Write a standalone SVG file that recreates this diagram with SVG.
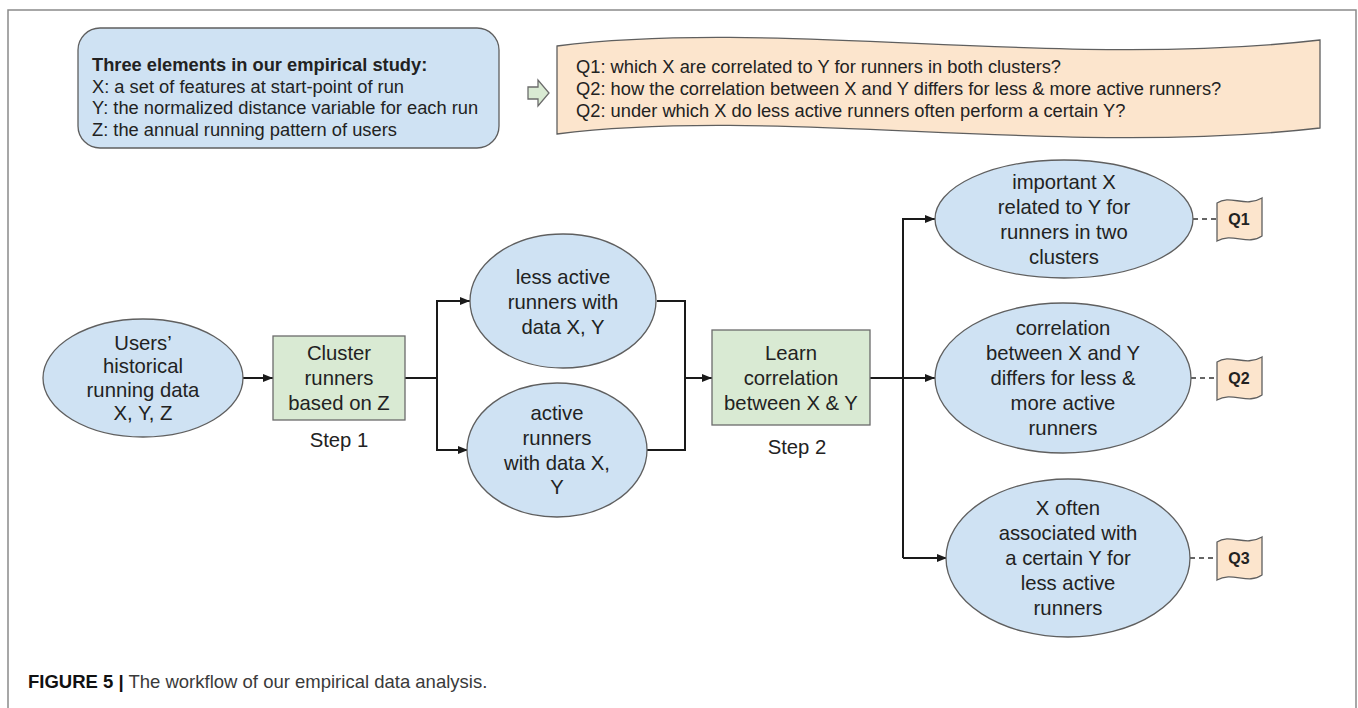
<svg xmlns="http://www.w3.org/2000/svg" width="1358" height="708" viewBox="0 0 1358 708">
  <defs>
    <marker id="arrow" viewBox="0 0 10 8" refX="10" refY="4" markerWidth="10" markerHeight="8" markerUnits="userSpaceOnUse" orient="auto">
      <path d="M0,0 L10,4 L0,8 Z" fill="#1a1a1a"/>
    </marker>
    <style>
      .frame { fill: #ffffff; stroke: #8a8a8a; stroke-width: 1.5; }
      .blue { fill: #cfe2f3; stroke: #5f5f5f; stroke-width: 1.3; }
      .green { fill: #d9ead3; stroke: #6b6b6b; stroke-width: 1.3; }
      .orange { fill: #fce5cd; stroke: #5f5f5f; stroke-width: 1.3; }
      .t { font-family: "Liberation Sans", Arial, sans-serif; fill: #222222; }
      .node { font-size: 20.3px; text-anchor: middle; }
      .info { font-size: 18.3px; }
      .tag { font-size: 16px; font-weight: bold; text-anchor: middle; }
      .link { fill: none; stroke: #1a1a1a; stroke-width: 2; }
      .dash { fill: none; stroke: #333333; stroke-width: 1.6; stroke-dasharray: 5 4; }
    </style>
  </defs>

  <!-- page frame -->
  <rect class="frame" x="8" y="10" width="1348" height="720"/>

  <!-- study elements box -->
  <g id="elements">
    <rect class="blue" x="78" y="28" width="421" height="120" rx="22" ry="22"/>
    <text class="t info" x="92" y="71" font-weight="bold">Three elements in our empirical study:</text>
    <text class="t info" x="92" y="92.5">X: a set of features at start-point of run</text>
    <text class="t info" x="92" y="114">Y: the normalized distance variable for each run</text>
    <text class="t info" x="92" y="135.5">Z: the annual running pattern of users</text>
  </g>

  <!-- block arrow toward the questions -->
  <g id="block-arrow">
    <path class="green" d="M528,87 L538,87 L538,80 L549,93 L538,106 L538,99 L528,99 Z"/>
  </g>

  <!-- research questions banner -->
  <g id="questions">
    <path class="orange" d="M557,46 C780,18 1060,70 1320,40 L1320,128 C1060,158 780,106 557,134 Z"/>
    <text class="t info" x="576" y="73">Q1: which X are correlated to Y for runners in both clusters?</text>
    <text class="t info" x="576" y="95">Q2: how the correlation between X and Y differs for less &amp; more active runners?</text>
    <text class="t info" x="576" y="117">Q2: under which X do less active runners often perform a certain Y?</text>
  </g>

  <!-- connectors -->
  <g id="connectors">
    <path class="link" d="M243,378 L273,378" marker-end="url(#arrow)"/>
    <path class="link" d="M405,378 L437,378"/>
    <path class="link" d="M437,450 L437,301 L470,301" marker-end="url(#arrow)"/>
    <path class="link" d="M437,378 L437,450 L468,450" marker-end="url(#arrow)"/>
    <path class="link" d="M657,301 L685,301 L685,450 L647,450"/>
    <path class="link" d="M685,378 L712,378" marker-end="url(#arrow)"/>
    <path class="link" d="M870,378 L903,378"/>
    <path class="link" d="M903,558 L903,219 L935,219" marker-end="url(#arrow)"/>
    <path class="link" d="M903,378 L935,378" marker-end="url(#arrow)"/>
    <path class="link" d="M903,558 L947,558" marker-end="url(#arrow)"/>
    <path class="dash" d="M1193,219 L1217,219"/>
    <path class="dash" d="M1191,378 L1217,378"/>
    <path class="dash" d="M1190,558 L1217,558"/>
  </g>

  <g id="users-data">
    <ellipse class="blue" cx="143" cy="378" rx="100" ry="59"/>
    <text class="t node" x="143" y="350">Users’</text>
    <text class="t node" x="143" y="373">historical</text>
    <text class="t node" x="143" y="397">running data</text>
    <text class="t node" x="143" y="420">X, Y, Z</text>
  </g>

  <g id="cluster">
    <rect class="green" x="273" y="336" width="132" height="84"/>
    <text class="t node" x="339" y="360">Cluster</text>
    <text class="t node" x="339" y="385">runners</text>
    <text class="t node" x="339" y="410">based on Z</text>
    <text class="t node" x="339" y="447">Step 1</text>
  </g>

  <g id="less-active">
    <ellipse class="blue" cx="563" cy="301" rx="93" ry="67"/>
    <text class="t node" x="563" y="284">less active</text>
    <text class="t node" x="563" y="309">runners with</text>
    <text class="t node" x="563" y="334">data X, Y</text>
  </g>

  <g id="active">
    <ellipse class="blue" cx="557" cy="450" rx="90" ry="67"/>
    <text class="t node" x="557" y="420">active</text>
    <text class="t node" x="557" y="445">runners</text>
    <text class="t node" x="557" y="470">with data X,</text>
    <text class="t node" x="557" y="494">Y</text>
  </g>

  <g id="learn">
    <rect class="green" x="712" y="330" width="158" height="95"/>
    <text class="t node" x="791" y="360">Learn</text>
    <text class="t node" x="791" y="385">correlation</text>
    <text class="t node" x="791" y="410">between X &amp; Y</text>
    <text class="t node" x="797" y="454">Step 2</text>
  </g>

  <g id="result-1">
    <ellipse class="blue" cx="1064" cy="219" rx="129" ry="59"/>
    <text class="t node" x="1064" y="189">important X</text>
    <text class="t node" x="1064" y="214">related to Y for</text>
    <text class="t node" x="1064" y="239">runners in two</text>
    <text class="t node" x="1064" y="264">clusters</text>
  </g>

  <g id="result-2">
    <ellipse class="blue" cx="1063" cy="378" rx="128" ry="75"/>
    <text class="t node" x="1063" y="335">correlation</text>
    <text class="t node" x="1063" y="360">between X and Y</text>
    <text class="t node" x="1063" y="385">differs for less &amp;</text>
    <text class="t node" x="1063" y="410">more active</text>
    <text class="t node" x="1063" y="435">runners</text>
  </g>

  <g id="result-3">
    <ellipse class="blue" cx="1068" cy="558" rx="122" ry="79"/>
    <text class="t node" x="1068" y="515">X often</text>
    <text class="t node" x="1068" y="540">associated with</text>
    <text class="t node" x="1068" y="565">a certain Y for</text>
    <text class="t node" x="1068" y="590">less active</text>
    <text class="t node" x="1068" y="615">runners</text>
  </g>

  <g id="q1">
    <path class="orange" d="M1217,203 C1230,194 1245,208 1262,198 L1262,236 C1248,246 1232,232 1217,241 Z"/>
    <text class="t tag" x="1239" y="225">Q1</text>
  </g>
  <g id="q2">
    <path class="orange" d="M1217,362 C1230,353 1245,367 1262,357 L1262,395 C1248,405 1232,391 1217,400 Z"/>
    <text class="t tag" x="1239" y="384">Q2</text>
  </g>
  <g id="q3">
    <path class="orange" d="M1217,542 C1230,533 1245,547 1262,537 L1262,575 C1248,585 1232,571 1217,580 Z"/>
    <text class="t tag" x="1239" y="564">Q3</text>
  </g>

  <!-- caption -->
  <text class="t" x="28" y="688" font-size="18.5"><tspan font-weight="bold" fill="#111111">FIGURE 5 |</tspan><tspan fill="#3a3a3a"> The workflow of our empirical data analysis.</tspan></text>
</svg>
